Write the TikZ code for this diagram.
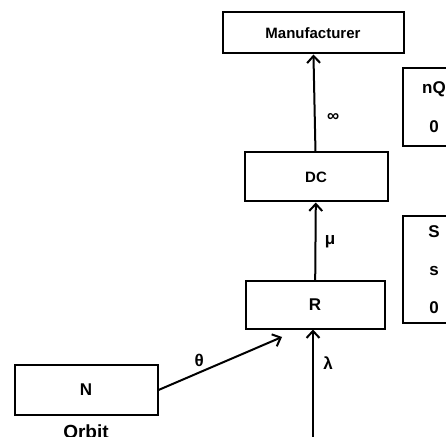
\documentclass[tikz,border=0pt]{standalone}
\usepackage{fontspec}
\setmainfont{Liberation Sans}
\usetikzlibrary{arrows.meta,positioning}

\begin{document}
\begin{tikzpicture}[x=1pt,y=1pt,->,>={Straight Barb[length=7pt,width=13pt]},line width=2pt]
\tikzstyle{box}=[draw,rectangle,line width=2pt,text=black,align=center,inner sep=0pt]
\tikzstyle{lab}=[font=\fontsize{17}{20}\bfseries\selectfont]

\useasboundingbox (0,0) rectangle (446,436);

\node[box]      (M) at (313,403) [minimum width=181pt,minimum height=41pt,font=\fontsize{15}{18}\bfseries\selectfont] {Manufacturer};
\node[box]      (DC) [below of=M, node distance=144pt, xshift=3pt,minimum width=143pt,minimum height=49pt,font=\fontsize{15}{18}\bfseries\selectfont] {DC};
\node[box]      (R) [below of=DC, node distance=128pt, xshift=-1pt,minimum width=139pt,minimum height=47pt,lab] {R};
\node[box]      (N) at (86,46) [minimum width=143pt,minimum height=50pt,lab] {N};
\node           (O) [below of=N, node distance=42pt,font=\fontsize{19}{22}\bfseries\selectfont] {Orbit};
\node[box]      (Q) at (434,329) [minimum width=62pt,minimum height=78pt,lab] {nQ\\[19pt]0};
\node[box]      (S) at (434,166.5) [minimum width=62pt,minimum height=107pt,lab] {S\\[18pt]s\\[18pt]0};
\coordinate     (T) at (282,99);
\coordinate     (L) at (313,-9);

\path
(DC) edge node[right,lab,pos=0.35,xshift=8pt] {∞} (M)
(R) edge node[right,lab,xshift=5pt] {μ} (DC)
(N.east) edge node[above,lab,pos=0.33,yshift=2pt] {θ} (T)
(L) edge node[right,lab,pos=0.71,xshift=6pt] {λ} (R.south -| L)
;
\end{tikzpicture}
\end{document}
